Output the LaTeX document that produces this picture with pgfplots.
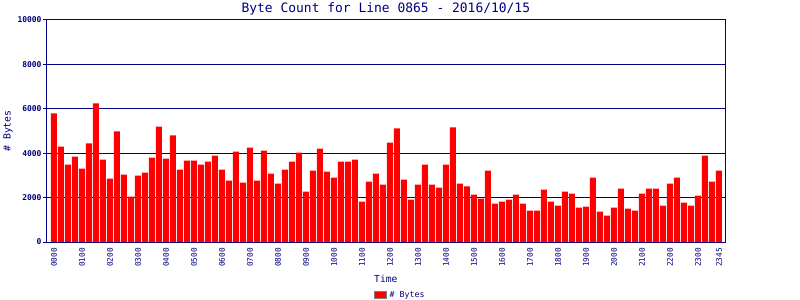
\documentclass[border=0pt]{standalone}
\usepackage{pgfplots}
\pgfplotsset{compat=1.18}
\usepackage{pgfplotstable}
\usepackage{fontspec}
\setmainfont{DejaVu Sans Mono}
\definecolor{navy}{RGB}{0,0,128}
\definecolor{barred}{RGB}{255,0,0}
\pgfplotstableread{
idx val
0 5790
1 4300
2 3490
3 3850
4 3310
5 4440
6 6240
7 3715
8 2860
9 4980
10 3040
11 2045
12 2990
13 3130
14 3805
15 5200
16 3760
17 4800
18 3265
19 3670
20 3670
21 3490
22 3625
23 3895
24 3265
25 2765
26 4075
27 2675
28 4255
29 2765
30 4120
31 3085
32 2630
33 3265
34 3625
35 4030
36 2270
37 3220
38 4210
39 3175
40 2905
41 3625
42 3625
43 3715
44 1820
45 2720
46 3085
47 2590
48 4480
49 5115
50 2810
51 1910
52 2590
53 3490
54 2590
55 2450
56 3490
57 5160
58 2630
59 2500
60 2135
61 1955
62 3220
63 1730
64 1820
65 1910
66 2135
67 1730
68 1415
69 1415
70 2360
71 1820
72 1640
73 2270
74 2180
75 1550
76 1595
77 2905
78 1370
79 1190
80 1550
81 2405
82 1505
83 1415
84 2180
85 2405
86 2405
87 1640
88 2630
89 2905
90 1775
91 1640
92 2090
93 3895
94 2720
95 3220
}\datatable
\begin{document}
\begin{tikzpicture}
\path[use as bounding box] (0,0) rectangle (800bp,300bp);
\begin{axis}[
  at={(46.7bp,58bp)}, anchor=south west,
  scale only axis, width=678.3bp, height=222bp,
  xmin=-1.04, xmax=95.86, ymin=0, ymax=10000,
  scaled y ticks=false, scaled x ticks=false,
  ytick={0,2000,4000,6000,8000,10000},
  yticklabels={0,2000,4000,6000,8000,10000},
  xtick={0,4,8,12,16,20,24,28,32,36,40,44,48,52,56,60,64,68,72,76,80,84,88,92,95},
  xticklabels={0000,0100,0200,0300,0400,0500,0600,0700,0800,0900,1000,1100,1200,1300,1400,1500,1600,1700,1800,1900,2000,2100,2200,2300,2345},
  tick align=outside, major tick length=4bp,
  ytick pos=left, xtick pos=bottom,
  xtick style={draw=none},
  ytick style={draw=navy, line width=1bp},
  yticklabel style={font=\bfseries\fontsize{8}{9}\selectfont, text=navy, inner sep=0pt, anchor=east},
  yticklabel shift=1bp,
  xticklabel style={font=\fontsize{7.8}{9}\selectfont, text=navy, inner sep=0pt, rotate=90, anchor=east},
  xticklabel shift=2bp,
  ymajorgrids, grid style={draw=navy, line width=1bp},
  axis line style={draw=navy, line width=1bp},
  xlabel={Time},
  xlabel style={at={(axis description cs:0.5,-0.1833)}, anchor=base, font=\fontsize{9.7}{11}\selectfont, text=navy, inner sep=0pt},
  ylabel={\# Bytes},
  ylabel style={at={(axis description cs:-0.0571,0.5)}, anchor=center, font=\fontsize{9.9}{11}\selectfont, text=navy, inner sep=0pt},
  legend style={at={(axis description cs:0.4825,-0.2387)}, anchor=west, draw=none, fill=none, inner sep=0pt,
    nodes={inner sep=0pt, font=\fontsize{8.3}{9}\selectfont, text=navy}},
  legend image code/.code={\draw[fill=barred, draw=gray, line width=1bp] (0bp,-3.5bp) rectangle (12bp,3.5bp); \path (15bp,0bp);},
]
\addplot[ybar, bar width=0.857, bar shift=0pt, fill=barred, draw=none] table[x=idx, y=val] {\datatable};
\addlegendentry{\# Bytes}
\end{axis}
\node[anchor=base, font=\fontsize{13}{15}\selectfont, text=navy, inner sep=0pt] at (385.85bp,287.7bp) {Byte Count for Line 0865 - 2016/10/15};
\end{tikzpicture}
\end{document}
